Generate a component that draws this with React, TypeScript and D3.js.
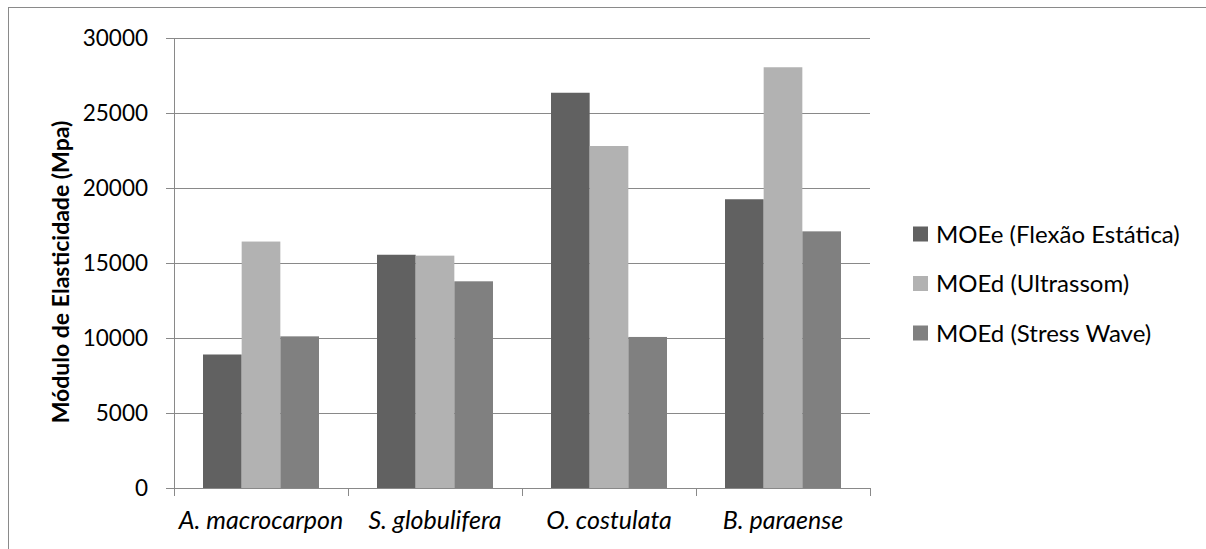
import React from "react";
import * as d3 from "d3";

// Species on the category axis
const categories = ["A. macrocarpon", "S. globulifera", "O. costulata", "B. paraense"];

// Series names and their values (MPa), one per species
const seriesNames = ["MOEe (Flexão Estática)", "MOEd (Ultrassom)", "MOEd (Stress Wave)"];
const moeEstatica = [8900, 15550, 26350, 19250];
const moeUltrassom = [16430, 15490, 22800, 28050];
const moeStressWave = [10110, 13780, 10070, 17110];
const seriesColors = ["#616161", "#b2b2b2", "#808080"];

// Y axis ticks
const yTicks = [0, 5000, 10000, 15000, 20000, 25000, 30000];

const W = 1206;
const H = 549;
const FONT = "Lato, 'Open Sans', sans-serif";

export default function App() {
  const series = [moeEstatica, moeUltrassom, moeStressWave];
  const plotLeft = 174;
  const plotRight = 870;
  const plotTop = 38;
  const plotBottom = 488;

  const y = d3.scaleLinear().domain([0, 30000]).range([plotBottom, plotTop]);
  const x0 = d3
    .scaleBand<string>()
    .domain(categories)
    .range([plotLeft, plotRight])
    .paddingInner(1 / 3)
    .paddingOuter(1 / 6);
  const x1 = d3
    .scaleBand<number>()
    .domain(d3.range(seriesNames.length))
    .range([0, x0.bandwidth()])
    .padding(0);
  const step = x0.step();
  const boundaries = d3.range(categories.length + 1).map((i) => plotLeft + i * step);

  const gridColor = "#898989";

  return (
    <svg
      width={W}
      height={H}
      style={{ position: "absolute", left: 0, top: 0, background: "#fff" }}
      fontFamily={FONT}
    >
      {/* chart frame */}
      <rect x={8.5} y={7.5} width={1400} height={800} fill="#fff" stroke="#8a8a8a" strokeWidth={1} />

      {/* horizontal gridlines */}
      {yTicks.map((t) => (
        <line
          key={"g" + t}
          x1={plotLeft - 8}
          x2={plotRight}
          y1={Math.round(y(t)) + 0.5}
          y2={Math.round(y(t)) + 0.5}
          stroke={gridColor}
          strokeWidth={1}
        />
      ))}

      {/* bars */}
      {categories.map((c, ci) => (
        <g key={c} transform={`translate(${x0(c)},0)`}>
          {series.map((vals, si) => (
            <rect
              key={si}
              x={x1(si)}
              y={y(vals[ci])}
              width={x1.bandwidth()}
              height={plotBottom - y(vals[ci])}
              fill={seriesColors[si]}
            />
          ))}
        </g>
      ))}

      {/* y axis line */}
      <line x1={plotLeft + 0.5} x2={plotLeft + 0.5} y1={plotTop} y2={plotBottom} stroke={gridColor} />
      {/* x axis line and category boundary ticks */}
      <line x1={plotLeft} x2={plotRight} y1={plotBottom + 0.5} y2={plotBottom + 0.5} stroke={gridColor} />
      {boundaries.map((b, i) => (
        <line
          key={"b" + i}
          x1={Math.round(b) + 0.5}
          x2={Math.round(b) + 0.5}
          y1={plotBottom}
          y2={plotBottom + 8}
          stroke={gridColor}
        />
      ))}

      {/* y tick labels */}
      {yTicks.map((t) => (
        <text
          key={"t" + t}
          x={148}
          y={y(t)}
          dy="0.36em"
          textAnchor="end"
          fontSize={22.5}
          fill="#000"
        >
          {t}
        </text>
      ))}

      {/* y axis title */}
      <text
        transform={`translate(61,272) rotate(-90)`}
        textAnchor="middle"
        dy="0.36em"
        fontSize={23}
        fontWeight="bold"
        fill="#000"
      >
        Módulo de Elasticidade (Mpa)
      </text>

      {/* category labels */}
      {categories.map((c) => (
        <text
          key={"c" + c}
          x={(x0(c) as number) + x0.bandwidth() / 2}
          y={529}
          textAnchor="middle"
          fontSize={25}
          fontStyle="italic"
          fill="#000"
        >
          {c}
        </text>
      ))}

      {/* legend */}
      {seriesNames.map((n, i) => {
        const cy = 234 + i * 49.5;
        return (
          <g key={"l" + i}>
            <rect x={913} y={cy - 7.5} width={15} height={15} fill={seriesColors[i]} />
            <text x={936} y={cy} dy="0.36em" fontSize={24} fill="#000">
              {n}
            </text>
          </g>
        );
      })}
    </svg>
  );
}
